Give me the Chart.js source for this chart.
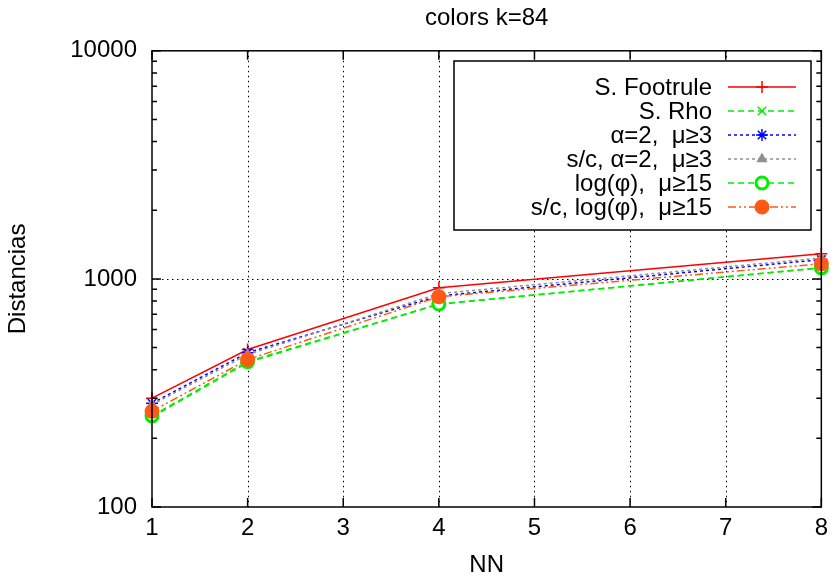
<!DOCTYPE html>
<html>
<head>
<meta charset="utf-8">
<title>colors k=84</title>
<script src="https://cdn.jsdelivr.net/npm/chart.js@4.4.0/dist/chart.umd.min.js"></script>
<style>
html, body { margin: 0; padding: 0; background: #fff; }
canvas { display: block; }
</style>
</head>
<body>
<canvas id="myChart" width="835" height="582"></canvas>
<script>
// data
const nn = [1, 2, 4, 8];
const footrule = [300, 490, 915, 1290];
const rho = [248, 430, 775, 1120];
const alpha2 = [285, 475, 842, 1215];
const scAlpha2 = [281, 466, 862, 1235];
const logPhi = [251, 434, 776, 1118];
const scLogPhi = [263, 443, 835, 1165];

const xTicks = [1, 2, 3, 4, 5, 6, 7, 8];
const yMajor = [100, 1000, 10000];
const yMinorSteps = [2, 3, 4, 5, 6, 7, 8, 9];

const FONT = '"Liberation Sans", Arial, Helvetica, sans-serif';
const FSIZE = 24;

function pts(arr) {
    return nn.map((v, i) => ({ x: v, y: arr[i] }));
}

// frame, ticks, dotted grid and key like gnuplot does it
const gnuplotFrame = {
    id: 'gnuplotFrame',
    beforeDatasetsDraw(chart) {
        const ctx = chart.ctx;
        const a = chart.chartArea;
        const x = chart.scales.x;
        const y = chart.scales.y;
        ctx.save();
        ctx.strokeStyle = '#000';
        ctx.lineWidth = 1;
        ctx.setLineDash([1.5, 3.5]);
        xTicks.forEach(v => {
            if (v > x.min && v < x.max) {
                const px = Math.round(x.getPixelForValue(v)) + 0.5;
                ctx.beginPath();
                ctx.moveTo(px, a.top);
                ctx.lineTo(px, a.bottom);
                ctx.stroke();
            }
        });
        yMajor.forEach(v => {
            if (v > y.min && v < y.max) {
                const py = Math.round(y.getPixelForValue(v)) + 0.5;
                ctx.beginPath();
                ctx.moveTo(a.left, py);
                ctx.lineTo(a.right, py);
                ctx.stroke();
            }
        });
        ctx.restore();
    },
    afterDatasetsDraw(chart) {
        const ctx = chart.ctx;
        const a = chart.chartArea;
        const x = chart.scales.x;
        const y = chart.scales.y;
        ctx.save();
        ctx.strokeStyle = '#000';
        ctx.lineWidth = 1.5;
        ctx.setLineDash([]);
        ctx.strokeRect(a.left, a.top, a.right - a.left, a.bottom - a.top);

        ctx.beginPath();
        xTicks.forEach(v => {
            const px = x.getPixelForValue(v);
            ctx.moveTo(px, a.bottom);
            ctx.lineTo(px, a.bottom - 9);
            ctx.moveTo(px, a.top);
            ctx.lineTo(px, a.top + 9);
        });
        yMajor.forEach(v => {
            const py = y.getPixelForValue(v);
            ctx.moveTo(a.left, py);
            ctx.lineTo(a.left + 9, py);
            ctx.moveTo(a.right, py);
            ctx.lineTo(a.right - 9, py);
        });
        yMajor.slice(0, -1).forEach(d => {
            yMinorSteps.forEach(m => {
                const py = y.getPixelForValue(d * m);
                ctx.moveTo(a.left, py);
                ctx.lineTo(a.left + 5, py);
                ctx.moveTo(a.right, py);
                ctx.lineTo(a.right - 5, py);
            });
        });
        ctx.stroke();

        // key
        const box = { left: 454, top: 61, right: 811, bottom: 230 };
        ctx.fillStyle = '#fff';
        ctx.fillRect(box.left, box.top, box.right - box.left, box.bottom - box.top);
        ctx.lineWidth = 1.5;
        ctx.strokeRect(box.left, box.top, box.right - box.left, box.bottom - box.top);
        ctx.font = FSIZE + 'px ' + FONT;
        ctx.textAlign = 'right';
        ctx.textBaseline = 'middle';
        chart.data.datasets.forEach((ds, i) => {
            const rowY = 87 + i * 24;
            ctx.fillStyle = '#000';
            ctx.fillText(ds.label, 712, rowY + 1);
            ctx.strokeStyle = ds.borderColor;
            ctx.lineWidth = ds.borderWidth;
            ctx.setLineDash(ds.borderDash || []);
            ctx.beginPath();
            ctx.moveTo(728, rowY);
            ctx.lineTo(796, rowY);
            ctx.stroke();
            ctx.setLineDash([]);
            ctx.fillStyle = ds.pointBackgroundColor;
            ctx.strokeStyle = ds.pointBorderColor;
            ctx.lineWidth = ds.pointBorderWidth;
            Chart.helpers.drawPoint(ctx, {
                pointStyle: ds.pointStyle,
                radius: ds.pointRadius,
                borderWidth: ds.pointBorderWidth,
                rotation: 0
            }, 762, rowY);
        });
        ctx.restore();
    }
};

function series(label, arr, color, dash, style, radius, fill, order) {
    return {
        label: label,
        data: pts(arr),
        borderColor: color,
        backgroundColor: color,
        borderWidth: 1.5,
        borderDash: dash,
        pointStyle: style,
        pointRadius: radius,
        pointBorderWidth: style === 'circle' ? 3 : 1.5,
        pointBorderColor: color,
        pointBackgroundColor: fill,
        tension: 0,
        clip: false,
        order: order
    };
}

const ctx = document.getElementById('myChart').getContext('2d');
const myChart = new Chart(ctx, {
    type: 'line',
    data: {
        datasets: [
            series('S. Footrule', footrule, '#ff0000', [], 'cross', 6, '#ff0000', 6),
            series('S. Rho', rho, '#00ee00', [6, 4], 'crossRot', 6, '#00ee00', 5),
            series('α=2,  μ≥3', alpha2, '#0000ff', [3, 3], 'star', 6, '#0000ff', 4),
            series('s/c, α=2,  μ≥3', scAlpha2, '#909090', [3, 3], 'triangle', 5, '#909090', 3),
            series('log(φ),  μ≥15', logPhi, '#00ee00', [6, 4], 'circle', 6, '#ffffff', 2),
            series('s/c, log(φ),  μ≥15', scLogPhi, '#ff5a14', [8, 3, 2, 3, 2, 3], 'circle', 6, '#ff5a14', 1)
        ]
    },
    options: {
        responsive: false,
        animation: false,
        layout: {
            padding: { left: 0, right: 8, top: 0, bottom: 0 }
        },
        plugins: {
            legend: { display: false },
            tooltip: { enabled: false },
            title: {
                display: true,
                fullSize: false,
                text: 'colors k=84',
                color: '#000',
                font: { family: FONT, size: FSIZE, weight: 'normal' },
                padding: { top: 4, bottom: 18 }
            }
        },
        scales: {
            x: {
                type: 'linear',
                min: 1,
                max: 8,
                grid: { display: false, drawTicks: false },
                border: { display: false },
                afterBuildTicks: scale => {
                    scale.ticks = xTicks.map(v => ({ value: v }));
                },
                afterFit: scale => { scale.height = 75; },
                ticks: {
                    color: '#000',
                    padding: 7,
                    maxRotation: 0,
                    font: { family: FONT, size: FSIZE }
                },
                title: {
                    display: true,
                    text: 'NN',
                    color: '#000',
                    font: { family: FONT, size: FSIZE },
                    padding: { top: 0, bottom: 2 }
                }
            },
            y: {
                type: 'logarithmic',
                min: 100,
                max: 10000,
                grid: { display: false, drawTicks: false },
                border: { display: false },
                afterBuildTicks: scale => {
                    scale.ticks = yMajor.map(v => ({ value: v, major: true }));
                },
                afterFit: scale => { scale.width = 152; },
                ticks: {
                    color: '#000',
                    padding: 15,
                    font: { family: FONT, size: FSIZE },
                    callback: v => String(v)
                },
                title: {
                    display: true,
                    text: 'Distancias',
                    color: '#000',
                    font: { family: FONT, size: FSIZE },
                    padding: { top: 4, bottom: 0 }
                }
            }
        }
    },
    plugins: [gnuplotFrame]
});
</script>
</body>
</html>
